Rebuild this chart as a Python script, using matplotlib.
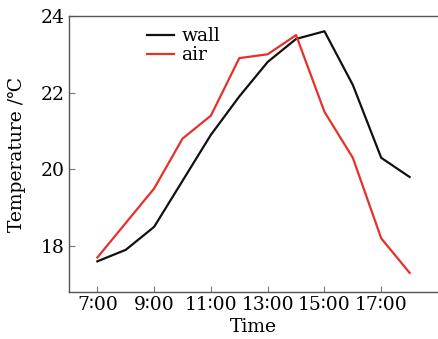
import matplotlib
matplotlib.use("Agg")
import matplotlib.pyplot as plt

hours = [7, 8, 9, 10, 11, 12, 13, 14, 15, 16, 17, 18]
wall = [17.6, 17.9, 18.5, 19.7, 20.9, 21.9, 22.8, 23.4, 23.6, 22.2, 20.3, 19.8]
air = [17.7, 18.6, 19.5, 20.8, 21.4, 22.9, 23.0, 23.5, 21.5, 20.3, 18.2, 17.3]
xticks = [7, 9, 11, 13, 15, 17]
xlabels = ["7\u223600", "9\u223600", "11\u223600", "13\u223600", "15\u223600", "17\u223600"]
yticks = [18, 20, 22, 24]

plt.rcParams['font.family'] = ['DejaVu Serif', 'DejaVu Sans']
plt.rcParams['font.size'] = 13.5

fig = plt.figure(figsize=(4.38, 3.39), dpi=100)
ax = fig.add_axes([0.1575, 0.1386, 0.8425, 0.8144])

ax.plot(hours, wall, color='#111111', lw=1.6, label='wall')
ax.plot(hours, air, color='#e8302a', lw=1.6, label='air')

ax.set_xlim(6, 19)
ax.set_ylim(16.8, 24)
ax.set_xticks(xticks)
ax.set_xticklabels(xlabels)
ax.set_yticks(yticks)
ax.tick_params(direction='in', length=4, width=0.8, color='#777777', pad=3)

for s in ['left', 'bottom', 'top']:
    ax.spines[s].set_color('#555555')
    ax.spines[s].set_linewidth(1.0)
ax.spines['right'].set_visible(False)

ax.set_xlabel('Time', labelpad=3)
ax.set_ylabel('Temperature /\u2103', labelpad=11)

ax.legend(loc='upper left', bbox_to_anchor=(0.18, 1.0), frameon=False,
          handlelength=1.45, handletextpad=0.4, labelspacing=0.05,
          borderaxespad=0.2)

plt.savefig('out.png', dpi=100)
